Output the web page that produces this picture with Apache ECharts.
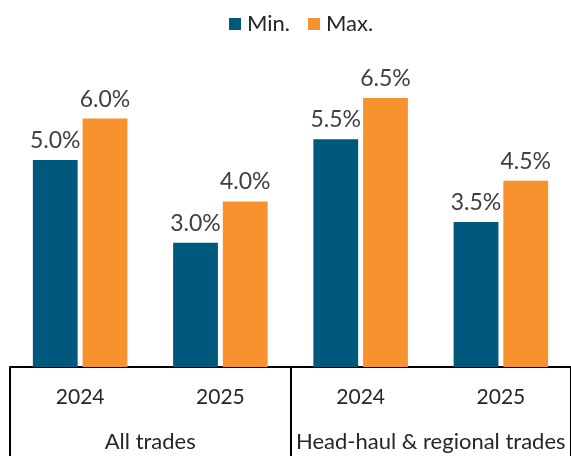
<!DOCTYPE html>
<html><head><meta charset="utf-8">
<script src="https://cdn.jsdelivr.net/npm/echarts@6/dist/echarts.min.js"></script>
<style>html,body{margin:0;padding:0;background:#fff}#c{width:571px;height:456px}</style>
</head><body><div id="c"></div>
<script>
const years = ['2024','2025','2024','2025'];
const groups = ['All trades','Head-haul & regional trades'];
const minVals = [5.0, 3.0, 5.5, 3.5];
const maxVals = [6.0, 4.0, 6.5, 4.5];
const seriesNames = ['Min.','Max.'];

const FONT = 'Lato';
const chart = echarts.init(document.getElementById('c'));
const lbl = {show:true, position:'top', distance:8, color:'#404040', fontFamily:FONT, fontSize:23,
  formatter:p=>p.value.toFixed(1)+'%'};
chart.setOption({
  animation:false,
  textStyle:{fontFamily:FONT},
  legend:{top:8, left:224, icon:'rect', itemWidth:12, itemHeight:12, itemGap:18,
    textStyle:{fontFamily:FONT, fontSize:22, color:'#262626', padding:[0,0,0,1]}, data:seriesNames},
  grid:{left:10, width:564, top:35.8, height:331.2, containLabel:false},
  xAxis:[{type:'category', data:years, position:'bottom',
      axisLine:{show:true, lineStyle:{color:'#000', width:2}},
      axisTick:{show:false},
      axisLabel:{margin:20, interval:0, color:'#262626', fontFamily:FONT, fontSize:21}},
    {type:'category', data:groups, position:'bottom',
      axisLine:{show:false},
      axisTick:{show:true, interval:0, length:90, lineStyle:{color:'#000', width:2}},
      axisLabel:{margin:64, interval:0, hideOverlap:false, color:'#262626', fontFamily:FONT, fontSize:22}}],
  yAxis:{type:'value', min:0, max:8, show:false, splitLine:{show:false}},
  series:[
    {name:seriesNames[0], type:'bar', data:minVals, barGap:'11%', barCategoryGap:'32.6%',
      itemStyle:{color:'#00587C'}, label:lbl},
    {name:seriesNames[1], type:'bar', data:maxVals, barGap:'11%', barCategoryGap:'32.6%',
      itemStyle:{color:'#F8922F'}, label:lbl}
  ]
});
</script></body></html>
